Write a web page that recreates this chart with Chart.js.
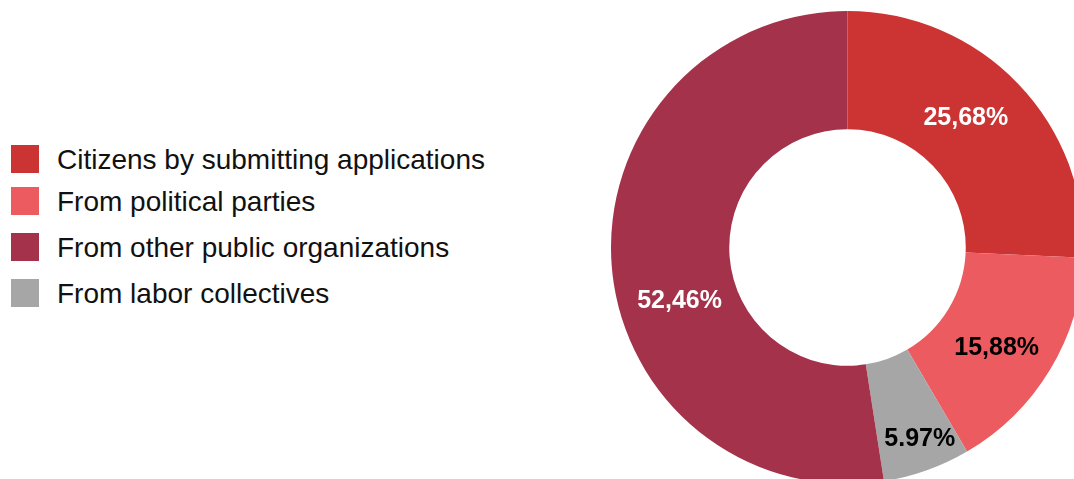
<!DOCTYPE html>
<html>
<head>
<meta charset="utf-8">
<script src="https://cdn.jsdelivr.net/npm/chart.js@4/dist/chart.umd.min.js"></script>
<style>
  html, body { margin: 0; padding: 0; background: #fff; overflow: hidden; width: 1074px; height: 479px; }
  #wrap { position: absolute; left: 611px; top: 11px; width: 473px; height: 473px; }
  #legend { position: absolute; left: 11px; top: 0; font-family: "Liberation Sans", Arial, sans-serif; font-size: 28px; color: #111; }
  .item { position: absolute; left: 0; white-space: nowrap; height: 28px; }
  .box { position: absolute; left: 0; top: 0; width: 28px; height: 28px; }
  .txt { position: absolute; left: 46px; top: 1px; line-height: 28px; }
</style>
</head>
<body>
<div id="legend"></div>
<div id="wrap"><canvas id="chart"></canvas></div>
<script>
// 데이터
const categories = ['Citizens by submitting applications', 'From political parties', 'From other public organizations', 'From labor collectives'];
const shares = [25.68, 15.88, 52.46, 5.97];
const shareLabels = ['25,68%', '15,88%', '52,46%', '5.97%'];
const colors = ['#CC3333', '#EB5B60', '#A3324A', '#A6A6A6'];

// 도넛 순서 (시계방향): 빨강, 분홍, 회색, 진한 빨강
const order = [0, 1, 3, 2];

// 범례 (HTML)
const legendTops = [145, 187, 233, 279];
const legend = document.getElementById('legend');
categories.forEach(function(name, i) {
    const item = document.createElement('div');
    item.className = 'item';
    item.style.top = legendTops[i] + 'px';
    item.innerHTML = '<div class="box" style="background:' + colors[i] + '"></div><div class="txt">' + name + '</div>';
    legend.appendChild(item);
});

// 조각 위 라벨 위치 (각도 비율, 링 두께 비율)
const labelPlugin = {
    id: 'sliceLabels',
    afterDatasetsDraw: function(chart, args, opts) {
        const ctx = chart.ctx;
        const meta = chart.getDatasetMeta(0);
        ctx.save();
        ctx.font = 'bold 25px "Liberation Sans", Arial, sans-serif';
        ctx.textAlign = 'center';
        ctx.textBaseline = 'middle';
        meta.data.forEach(function(arc, i) {
            const p = arc.getProps(['x', 'y', 'startAngle', 'endAngle', 'innerRadius', 'outerRadius'], true);
            const a = p.startAngle + (p.endAngle - p.startAngle) * opts.angleFrac[i];
            const r = p.innerRadius + (p.outerRadius - p.innerRadius) * opts.radiusFrac[i];
            ctx.fillStyle = opts.textColors[i];
            ctx.fillText(opts.texts[i], p.x + Math.cos(a) * r, p.y + Math.sin(a) * r);
        });
        ctx.restore();
    }
};

new Chart(document.getElementById('chart').getContext('2d'), {
    type: 'doughnut',
    data: {
        labels: order.map(i => categories[i]),
        datasets: [{
            data: order.map(i => shares[i]),
            backgroundColor: order.map(i => colors[i]),
            borderWidth: 0
        }]
    },
    options: {
        responsive: true,
        maintainAspectRatio: false,
        animation: false,
        cutout: '50%',
        layout: { padding: 0 },
        plugins: {
            legend: { display: false },
            tooltip: { enabled: false },
            sliceLabels: {
                texts: order.map(i => shareLabels[i]),
                textColors: ['#fff', '#000', '#000', '#fff'],
                angleFrac: [0.46, 0.55, 0.45, 0.43],
                radiusFrac: [0.48, 0.52, 0.73, 0.49]
            }
        }
    },
    plugins: [labelPlugin]
});
</script>
</body>
</html>
